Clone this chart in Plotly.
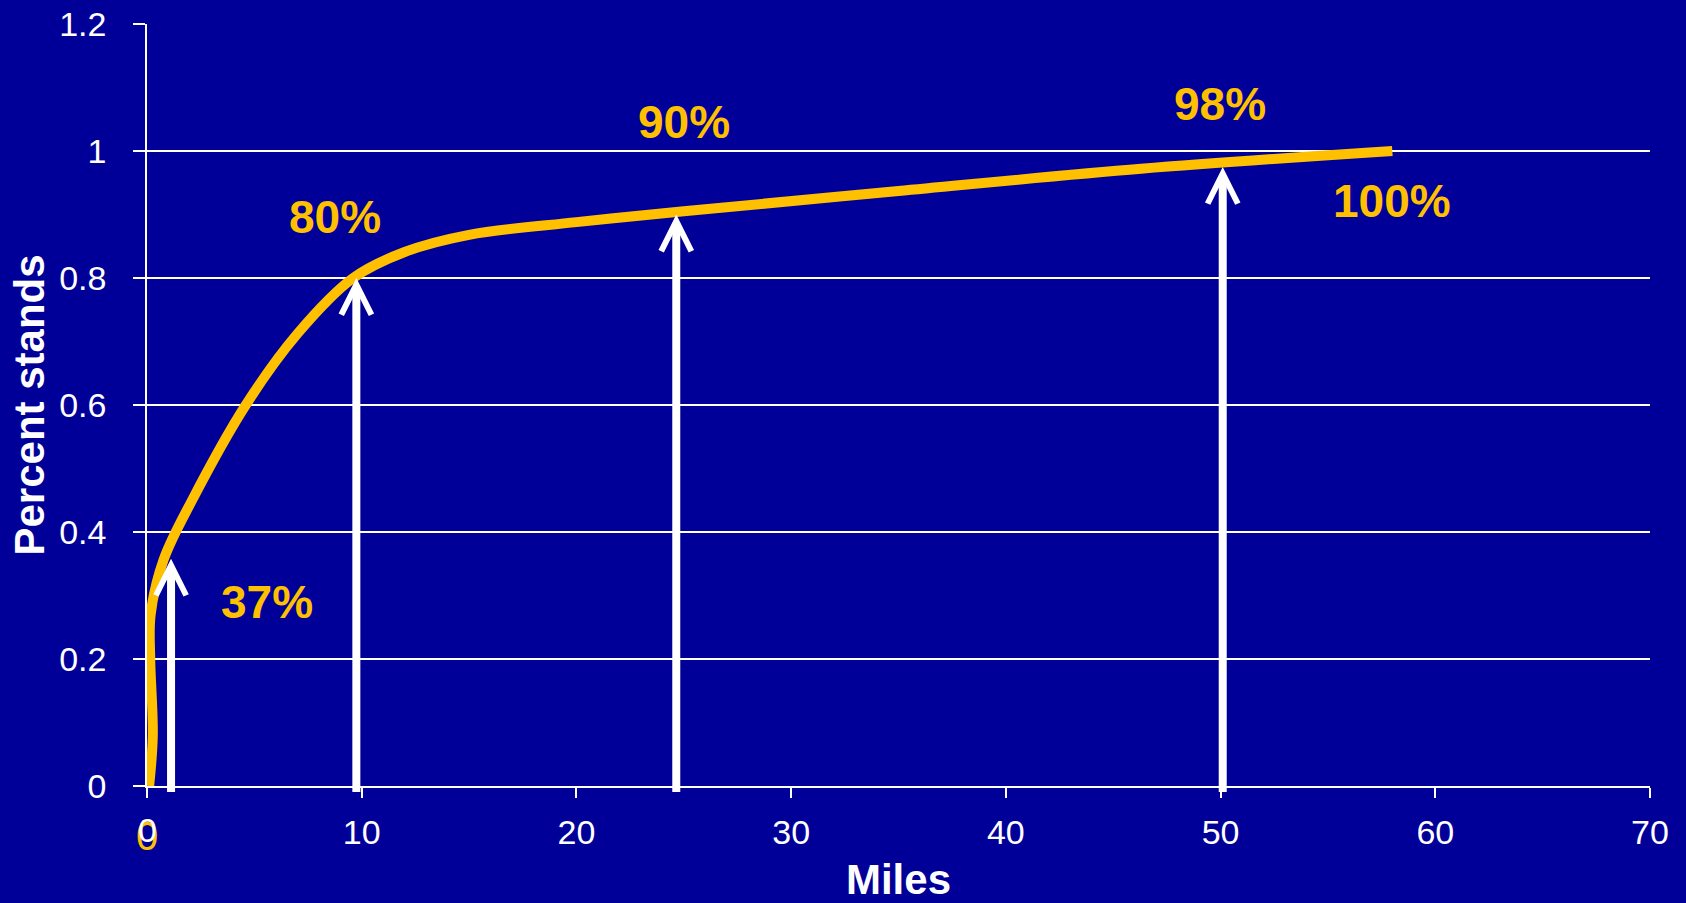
import plotly.graph_objects as go

# Curve: cumulative share of stands vs. distance (miles)
miles = [0.1, 0.27, 0.15, 0.17, 0.77, 2.1, 4.6, 7.0, 9.6, 12.0, 15.0,
         20.0, 25.0, 35.0, 46.3, 58.0]
share = [0.0, 0.08, 0.2, 0.27, 0.356, 0.45, 0.60, 0.712, 0.80, 0.841, 0.868,
         0.888, 0.905, 0.937, 0.972, 1.0]

# Arrows marking thresholds
arrow_x = [1.12, 9.75, 24.65, 50.1]
arrow_top = [0.358, 0.80, 0.90, 0.975]
arrow_base = -0.012

# Percentage labels
label_text = ["37%", "80%", "90%", "98%", "100%"]
label_x = [5.6, 8.75, 25.0, 49.95, 58.0]
label_y = [0.29, 0.896, 1.046, 1.074, 0.921]

# First-point data label
start_label_x = 0
start_label_text = "0"

x_ticks = [0, 10, 20, 30, 40, 50, 60, 70]
y_ticks = [0, 0.2, 0.4, 0.6, 0.8, 1.0, 1.2]

BG = "#000099"
GOLD = "#FFC000"
FONT = "Liberation Sans, Arial, sans-serif"

# the "0" tick label is drawn as an annotation so it can sit on top of the gold label
x_ticktext = ["" if v == 0 else str(v) for v in x_ticks]

fig = go.Figure()

fig.add_trace(go.Scatter(
    x=miles, y=share, mode="lines",
    line=dict(color=GOLD, width=10, shape="spline", smoothing=1.0),
    hoverinfo="skip", showlegend=False,
))

annotations = []
annotations.append(dict(
    x=start_label_x, y=0, xref="x", yref="paper", text=start_label_text,
    showarrow=False, xanchor="center", yanchor="middle", xshift=0, yshift=-50,
    font=dict(color=GOLD, size=40, family=FONT),
))
annotations.append(dict(
    x=x_ticks[0], y=0, xref="x", yref="paper", text=str(x_ticks[0]),
    showarrow=False, xanchor="center", yanchor="middle", yshift=-44,
    font=dict(color="white", size=34, family=FONT),
))

for xv, yt in zip(arrow_x, arrow_top):
    annotations.append(dict(
        x=xv, y=yt, xref="x", yref="y",
        ax=xv, ay=arrow_base, axref="x", ayref="y",
        text="", showarrow=True, arrowhead=5, arrowsize=0.74,
        arrowwidth=8, arrowcolor="white", standoff=0,
    ))

for t, xv, yv in zip(label_text, label_x, label_y):
    annotations.append(dict(
        x=xv, y=yv, xref="x", yref="y", text=t, showarrow=False,
        font=dict(color=GOLD, size=46, family=FONT, weight="bold"),
        xanchor="center", yanchor="middle",
    ))

fig.update_layout(
    width=1686, height=903,
    margin=dict(l=147, r=36, t=24, b=117),
    paper_bgcolor=BG, plot_bgcolor=BG,
    template="none",
    showlegend=False,
    annotations=annotations,
    xaxis=dict(
        range=[0, 70], tickvals=x_ticks, ticktext=x_ticktext,
        ticks="outside", ticklen=10,
        tickwidth=1.5, tickcolor="white",
        showline=True, linecolor="white", linewidth=1.5,
        showgrid=False, zeroline=False,
        tickfont=dict(color="white", size=34, family=FONT),
        ticklabelstandoff=5,
        title=dict(text="Miles", standoff=24,
                   font=dict(color="white", size=42, family=FONT, weight="bold")),
        automargin=False,
    ),
    yaxis=dict(
        range=[0, 1.2], tickvals=y_ticks, ticks="outside", ticklen=12,
        tickwidth=1.5, tickcolor="white",
        showline=True, linecolor="white", linewidth=1.5,
        showgrid=True, gridcolor="white", gridwidth=1.5, zeroline=False,
        tickfont=dict(color="white", size=34, family=FONT),
        ticklabelstandoff=20,
        title=dict(text="Percent stands", standoff=1,
                   font=dict(color="white", size=42, family=FONT, weight="bold")),
        automargin=False,
    ),
)

fig.write_html("out.html")
